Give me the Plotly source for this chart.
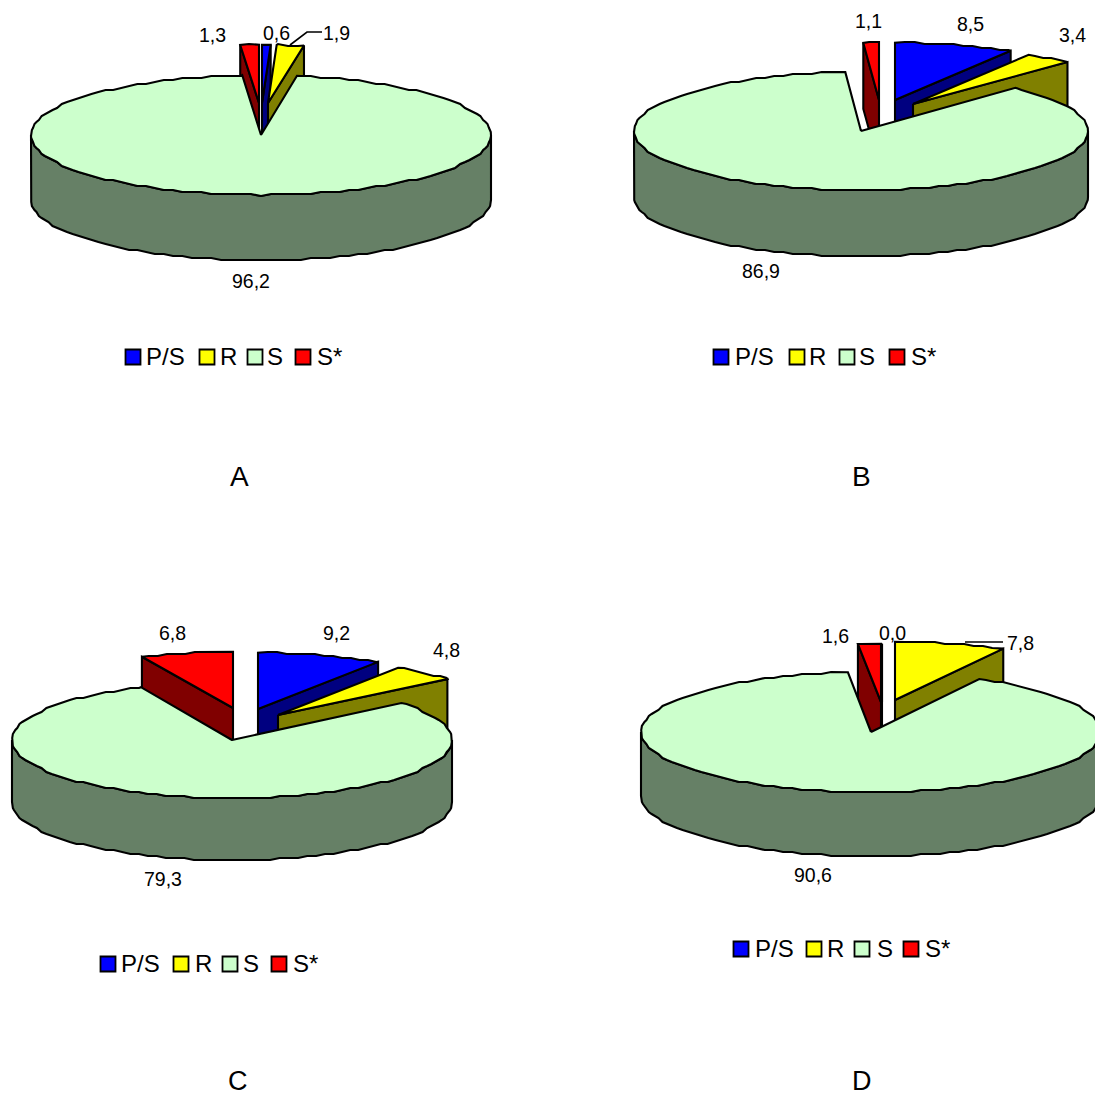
import math
import plotly.graph_objects as go

categories = ["P/S", "R", "S", "S*"]
values_a = [0.6, 1.9, 96.2, 1.3]
values_b = [8.5, 3.4, 86.9, 1.1]
values_c = [9.2, 4.8, 79.3, 6.8]
values_d = [0.0, 7.8, 90.6, 1.6]
panel_names = ["A", "B", "C", "D"]

colors = {"P/S": "#0000FF", "R": "#FFFF00", "S": "#CCFFCC", "S*": "#FF0000"}
dark = {"P/S": "#000080", "R": "#808000", "S": "#668066", "S*": "#800000"}
FONT = "Liberation Sans, Arial, sans-serif"
LW = 2.1

# Layout of each panel (pixel-like paper coordinates)
panels = [
    dict(name="A", values=values_a, cx=261, cy=135, rx=230, ry=60, depth=65,
         pull={"P/S": (1, -32), "R": (7, -32), "S*": (-2, -32)},
         label_xy=[(276, 33), (336, 33), (251, 281), (212, 35)],
         swatch_x=[133, 207, 255, 303], text_x=[144, 218, 265, 315], legend_y=357,
         letter=(239, 476), letter_size=28, leader=[(290, 45), (307, 32), (322, 32)]),
    dict(name="B", values=values_b, cx=861, cy=131, rx=227, ry=59, depth=66,
         pull={"P/S": (34, -31), "R": (52, -27), "S*": (18, -31)},
         label_xy=[(970, 24), (1072, 35), (761, 271), (868, 21)],
         swatch_x=[721, 797, 847, 897], text_x=[733, 807, 857, 909], legend_y=357,
         letter=(861, 476), letter_size=28, leader=None),
    dict(name="C", values=values_c, cx=232, cy=740, rx=220, ry=58, depth=62,
         pull={"P/S": (26, -31), "R": (46, -25), "S*": (1, -32)},
         label_xy=[(336, 633), (446, 650), (163, 879), (172, 633)],
         swatch_x=[108, 181, 230, 279], text_x=[119, 193, 241, 291], legend_y=964,
         letter=(238, 1081), letter_size=27, leader=None),
    dict(name="D", values=values_d, cx=871, cy=732, rx=230, ry=60, depth=64,
         pull={"P/S": (11, -30), "R": (24, -32), "S*": (10, -30)},
         label_xy=[(892, 633), (1020, 643), (813, 875), (835, 636)],
         swatch_x=[741, 814, 862, 911], text_x=[753, 825, 875, 923], legend_y=949,
         letter=(862, 1081), letter_size=27, leader=[(965, 642), (1003, 642)]),
]

JAG = 2.0
STEP = 2.5
PULLED_SCALE = 0.97


def pt(p, a, ox=0, oy=0, dz=0, k=1.0):
    t = math.radians(a)
    return p["cx"] + ox + p["rx"] * math.sin(t), p["cy"] + oy - k * p["ry"] * math.cos(t) + dz


def arc(p, a0, a1, ox=0, oy=0, dz=0, k=1.0):
    # sample on one fixed angular grid so coincident edges share their vertices
    lo, hi = min(a0, a1), max(a0, a1)
    grid = [i * STEP for i in range(int(lo / STEP) + 1, int(math.ceil(hi / STEP)))]
    out = [pt(p, lo, ox, oy, dz, k)]
    for g in grid:
        x, y = pt(p, g, ox, oy, dz, k)
        out.append((x, round(y / JAG) * JAG))
    out.append(pt(p, hi, ox, oy, dz, k))
    return out if a0 <= a1 else out[::-1]


fig = go.Figure()


def poly(points, fill, name):
    xs = [q[0] for q in points] + [points[0][0]]
    ys = [q[1] for q in points] + [points[0][1]]
    fig.add_trace(go.Scatter(x=xs, y=ys, mode="lines", fill="toself", fillcolor=fill,
                             line=dict(color="black", width=LW), name=name,
                             showlegend=False, hoverinfo="skip"))


annotations = []


def label(x, y, text, size, anchor="center"):
    annotations.append(dict(x=x, y=y, text=text, showarrow=False, xanchor=anchor,
                            yanchor="middle", font=dict(family=FONT, size=size, color="black")))


for p in panels:
    total = sum(p["values"])
    spans = {}
    a = 0.0
    for c, v in zip(categories, p["values"]):
        spans[c] = (a, a + 360.0 * v / total)
        a += 360.0 * v / total

    # exploded slices behind the main body
    for c in ["S*", "P/S", "R"]:
        a0, a1 = spans[c]
        ox, oy = p["pull"][c]
        tip = (p["cx"] + ox, p["cy"] + oy)
        edge = a0 if c == "S*" else a1
        e = pt(p, edge, ox, oy, k=PULLED_SCALE)
        poly([tip, e, (e[0], e[1] + p["depth"]), (tip[0], tip[1] + p["depth"])], dark[c], c)
        poly([tip] + arc(p, a0, a1, ox, oy, k=PULLED_SCALE), colors[c], c)

    # main body: side band, then top face
    a0, a1 = spans["S"]
    band = arc(p, 90, 270) + arc(p, 270, 90, dz=p["depth"])
    poly(band, dark["S"], "S")
    poly([(p["cx"], p["cy"])] + arc(p, a0, a1), colors["S"], "S")

    if p["leader"]:
        fig.add_trace(go.Scatter(x=[q[0] for q in p["leader"]], y=[q[1] for q in p["leader"]],
                                 mode="lines", line=dict(color="black", width=1.6),
                                 showlegend=False, hoverinfo="skip"))

    # value labels
    for (x, y), v in zip(p["label_xy"], p["values"]):
        label(x, y, f"{v:.1f}".replace(".", ","), 19.5)

    # legend
    for c, sx, tx in zip(categories, p["swatch_x"], p["text_x"]):
        fig.add_trace(go.Scatter(x=[sx], y=[p["legend_y"]], mode="markers", name=c,
                                 marker=dict(symbol="square", size=15, color=colors[c],
                                             line=dict(color="black", width=1.8)),
                                 showlegend=False, hoverinfo="skip"))
        label(tx, p["legend_y"] - 1, c, 24, "left")

    label(p["letter"][0], p["letter"][1], p["name"], p["letter_size"])

fig.update_layout(
    width=1095, height=1097, margin=dict(l=0, r=0, t=0, b=0, pad=0),
    paper_bgcolor="white", plot_bgcolor="white", showlegend=False,
    xaxis=dict(range=[0, 1095], visible=False, fixedrange=True),
    yaxis=dict(range=[1097, 0], visible=False, fixedrange=True),
    annotations=annotations,
)
fig.write_html("out.html", config={"displayModeBar": False},
               post_script="document.body.style.margin='0';document.body.style.overflow='hidden';")
